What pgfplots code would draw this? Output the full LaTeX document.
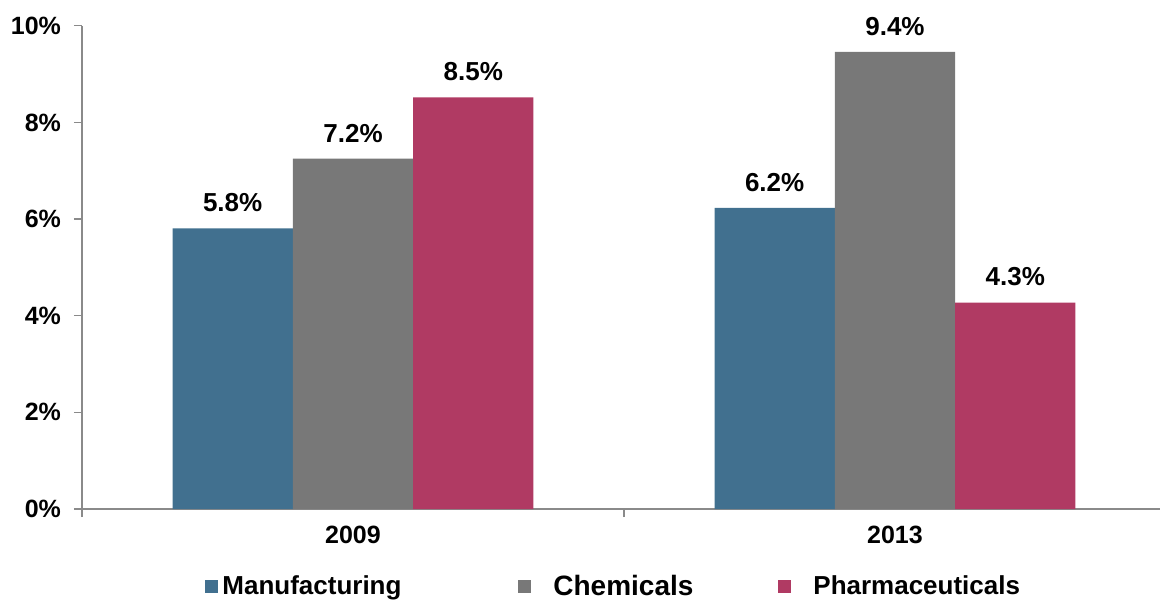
\documentclass[border=0pt]{standalone}
\usepackage{pgfplots}
\pgfplotsset{compat=1.18}
\usepackage{fontspec}
\setmainfont{Liberation Sans}
\definecolor{cMan}{HTML}{41708F}
\definecolor{cChem}{HTML}{787878}
\definecolor{cPharm}{HTML}{B03A63}
\definecolor{axgray}{HTML}{8A8A8A}
\begin{document}
\begin{tikzpicture}
\begin{axis}[
  scale only axis,
  width=539pt, height=241.6pt,
  xmin=-0.5, xmax=1.489,
  ymin=0, ymax=10,
  ybar=0pt,
  bar width=0.222,
  axis x line=bottom, axis y line=left,
  axis line style={axgray, line width=0.7pt, -},
  tick style={axgray, line width=0.7pt},
  tick align=outside,
  major tick length=4pt,
  xtick={-0.5,0.5}, xticklabels={},
  extra x ticks={0,1},
  extra x tick labels={2009,2013},
  extra x tick style={major tick length=0pt, xticklabel style={yshift=-5pt}},
  ytick={0,2,4,6,8,10},
  yticklabel={\pgfmathprintnumber{\tick}\%},
  /pgf/number format/assume math mode=true,
  every tick label/.append style={font=\bfseries\fontsize{12.5}{14}\selectfont, text=black},
  yticklabel style={xshift=-3pt},
  point meta=explicit symbolic,
  nodes near coords,
  nodes near coords style={font=\bfseries\fontsize{13}{15}\selectfont, anchor=south, inner sep=0pt, yshift=8pt, text=black},
  legend columns=-1,
  legend style={draw=none, at={(0.1141,-0.1604)}, anchor=west, inner sep=0pt,
    nodes={inner sep=0pt},
    font=\bfseries\fontsize{13}{15}\selectfont,
    column sep=0pt},
  legend image code/.code={\fill[#1, draw=none] (0pt,-3.25pt) rectangle (6.5pt,3.25pt);},
  clip=false,
]
\addplot[fill=cMan, draw=none] coordinates {(0,5.81) [5.8\%] (1,6.23) [6.2\%]};
\addplot[fill=cChem, draw=none] coordinates {(0,7.25) [7.2\%] (1,9.46) [9.4\%]};
\addplot[fill=cPharm, draw=none] coordinates {(0,8.52) [8.5\%] (1,4.27) [4.3\%]};
\legend{\makebox[150pt][l]{\hspace*{2pt}Manufacturing},\makebox[123.5pt][l]{\hspace*{11pt}\fontsize{14}{16}\selectfont Chemicals},\makebox[110pt][l]{\hspace*{11pt}Pharmaceuticals}}
\end{axis}
\pgfresetboundingbox
\path (current axis.south west) +(-41pt,-45pt) rectangle +(539pt,254.5pt);
\end{tikzpicture}
\end{document}
